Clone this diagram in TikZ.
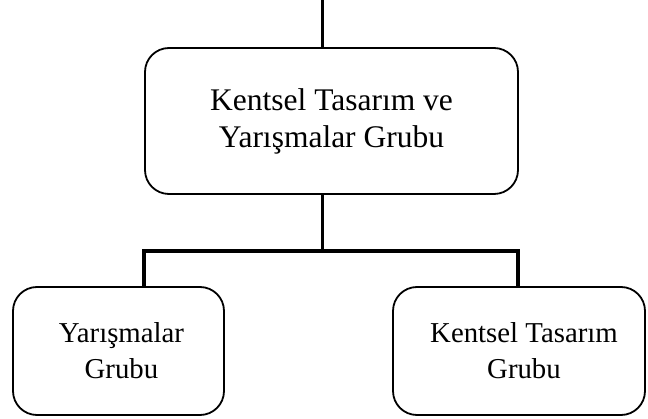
\documentclass[tikz,border=0pt]{standalone}
\usepackage{fontspec}
\setmainfont{Liberation Serif}
\begin{document}
\begin{tikzpicture}[x=1pt,y=-1pt,
  unitbox/.style={draw=black, line width=1.8pt, rounded corners=24pt, align=center,
    inner sep=0pt, fill=white},
  bigtext/.style={font=\fontsize{31.5}{37}\selectfont},
  smalltext/.style={font=\fontsize{28.8}{36}\selectfont},
  link/.style={draw=black, line width=3.4pt, line join=miter}]
  \useasboundingbox (0,0) rectangle (648,419);

  % boxes
  \node[unitbox, bigtext, minimum width=373pt, minimum height=146pt] (top) at (331.5,121)
    {Kentsel Tasarım ve\\Yarışmalar Grubu};
  \node[unitbox, smalltext, minimum width=211pt, minimum height=128pt] (lft) at (118.5,351)
    {\hspace*{6pt}Yarışmalar\\\hspace*{6pt}Grubu};
  \node[unitbox, smalltext, minimum width=252pt, minimum height=128pt] (rgt) at (519,351)
    {\hspace*{10pt}Kentsel Tasarım\\\hspace*{10pt}Grubu};

  % junction points of the connectors
  \coordinate (feed) at (322.7,0);
  \coordinate (split) at (322.7,251);
  \coordinate (lj) at (144,251);
  \coordinate (rj) at (518,251);

  % connectors
  \draw[link] (feed) -- (top.north -| feed);
  \draw[link] (top.south -| split) -- (split);
  \draw[link] (lft.north -| lj) -- (lj) -- (rj) -- (rgt.north -| rj);
\end{tikzpicture}
\end{document}
